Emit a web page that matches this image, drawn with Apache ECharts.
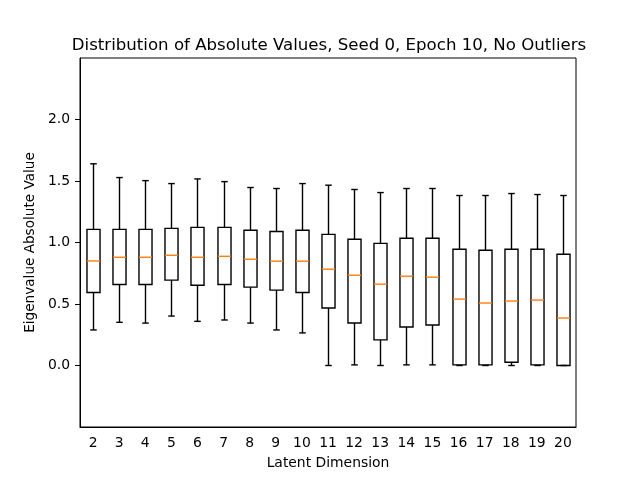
<!DOCTYPE html>
<html>
<head>
<meta charset="utf-8">
<script src="https://cdn.jsdelivr.net/npm/echarts@6/dist/echarts.min.js"></script>
<style>html,body{margin:0;padding:0;background:#fff}#c{width:640px;height:480px}</style>
</head>
<body>
<div id="c"></div>
<script>
const categories = ['2','3','4','5','6','7','8','9','10','11','12','13','14','15','16','17','18','19','20'];
const whiskerLow  = [0.289,0.351,0.345,0.402,0.359,0.370,0.345,0.289,0.265,0.000,0.005,0.000,0.005,0.005,0.000,0.000,0.000,0.000,0.000];
const q1          = [0.594,0.658,0.658,0.694,0.653,0.658,0.637,0.613,0.594,0.467,0.345,0.208,0.313,0.329,0.005,0.005,0.027,0.005,0.000];
const median      = [0.850,0.880,0.880,0.896,0.880,0.888,0.864,0.848,0.848,0.783,0.734,0.661,0.726,0.718,0.540,0.508,0.524,0.532,0.386];
const q3          = [1.107,1.107,1.107,1.115,1.123,1.123,1.099,1.090,1.099,1.066,1.026,0.993,1.034,1.034,0.945,0.937,0.945,0.945,0.904];
const whiskerHigh = [1.640,1.528,1.503,1.479,1.517,1.495,1.447,1.439,1.479,1.466,1.431,1.406,1.439,1.439,1.382,1.382,1.398,1.390,1.382];
const yTicks = [0, 0.5, 1.0, 1.5, 2.0];

const rows = categories.map((c, i) => [i, whiskerLow[i], q1[i], median[i], q3[i], whiskerHigh[i]]);

const font = 'DejaVu Sans';
const chart = echarts.init(document.getElementById('c'));
chart.setOption({
  backgroundColor: '#fff',
  animation: false,
  title: {
    text: 'Distribution of Absolute Values, Seed 0, Epoch 10, No Outliers',
    left: 324, top: 32, textAlign: 'center',
    textStyle: { fontFamily: font, fontSize: 16.6, fontWeight: 'normal', color: '#000' }
  },
  grid: { left: 80, right: 64, top: 58, bottom: 53, show: true, borderColor: '#000', borderWidth: 1, backgroundColor: 'transparent' },
  xAxis: {
    type: 'category', data: categories, boundaryGap: true,
    name: 'Latent Dimension', nameLocation: 'middle', nameGap: 29,
    nameTextStyle: { fontFamily: font, fontSize: 13.9, color: '#000' },
    axisLine: { onZero: false, lineStyle: { color: '#000', width: 1 } },
    axisTick: { alignWithLabel: true, length: 5, lineStyle: { color: '#000' } },
    axisLabel: { fontFamily: font, fontSize: 13.9, color: '#000', margin: 9, interval: 0 },
    splitLine: { show: false }
  },
  yAxis: {
    type: 'value', min: -0.5, max: 2.5, interval: 0.5,
    name: 'Eigenvalue Absolute Value', nameLocation: 'middle', nameGap: 35,
    nameTextStyle: { fontFamily: font, fontSize: 13.6, color: '#000' },
    axisLine: { show: true, onZero: false, lineStyle: { color: '#000', width: 1 } },
    axisTick: { show: true, length: 5, customValues: yTicks, lineStyle: { color: '#000' } },
    axisLabel: { fontFamily: font, fontSize: 13.9, color: '#000', margin: 10, customValues: yTicks,
      formatter: v => v.toFixed(1) },
    splitLine: { show: false }
  },
  series: [{
    type: 'custom',
    data: rows,
    encode: { x: 0, y: [1, 2, 3, 4, 5] },
    renderItem: function (params, api) {
      const x = api.value(0);
      const pLow = api.coord([x, api.value(1)]);
      const pQ1 = api.coord([x, api.value(2)]);
      const pMed = api.coord([x, api.value(3)]);
      const pQ3 = api.coord([x, api.value(4)]);
      const pHigh = api.coord([x, api.value(5)]);
      const bw = api.size([1, 0])[0] * 0.5;
      const cw = bw * 0.5;
      const cx = Math.round(pLow[0]) + 0.5;
      const st = { stroke: '#000', lineWidth: 1.4, fill: null };
      return {
        type: 'group',
        children: [
          { type: 'line', shape: { x1: cx, y1: pLow[1], x2: cx, y2: pQ1[1] }, style: st },
          { type: 'line', shape: { x1: cx, y1: pQ3[1], x2: cx, y2: pHigh[1] }, style: st },
          { type: 'line', shape: { x1: cx - cw / 2, y1: pLow[1], x2: cx + cw / 2, y2: pLow[1] }, style: st },
          { type: 'line', shape: { x1: cx - cw / 2, y1: pHigh[1], x2: cx + cw / 2, y2: pHigh[1] }, style: st },
          { type: 'rect', shape: { x: cx - bw / 2, y: pQ3[1], width: bw, height: pQ1[1] - pQ3[1] }, style: { stroke: '#000', lineWidth: 1.4, fill: 'none' } },
          { type: 'line', shape: { x1: cx - bw / 2, y1: pMed[1], x2: cx + bw / 2, y2: pMed[1] }, style: { stroke: '#ff7f0e', lineWidth: 1.4 } }
        ]
      };
    }
  }]
});
</script>
</body>
</html>
